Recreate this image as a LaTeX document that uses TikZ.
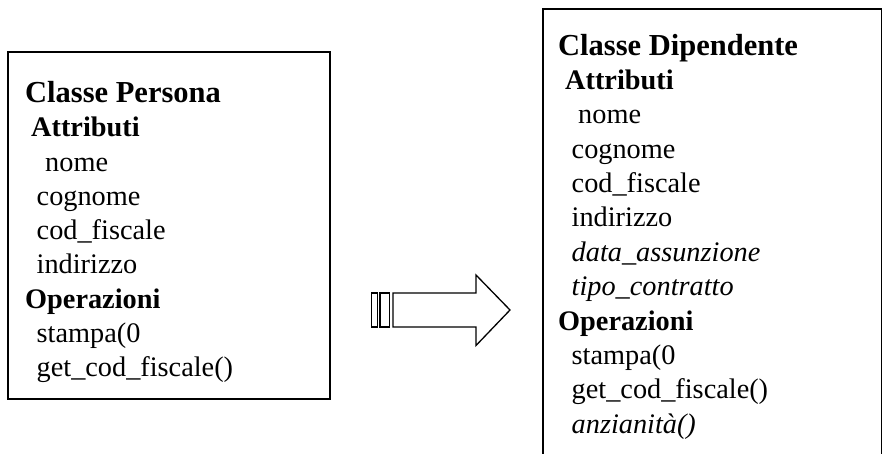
\documentclass[tikz,border=0pt]{standalone}
\usepackage{fontspec}
\setmainfont{Liberation Serif}
\begin{document}
\begin{tikzpicture}[x=1pt,y=-1pt,
  item/.style={anchor=base west,inner sep=0pt,font=\fontsize{28.3}{34}\selectfont},
  itemb/.style={item,font=\fontsize{28.3}{34}\selectfont\bfseries},
  itemi/.style={item,font=\fontsize{28.3}{34}\selectfont\itshape},
  head/.style={item,font=\fontsize{30.5}{36}\selectfont\bfseries},
  frame/.style={draw=black,line width=1.6pt,inner sep=0pt,outer sep=0pt,anchor=north west},
  arr/.style={draw=black,line width=1.3pt,fill=white,line join=miter}]
\useasboundingbox (0,0) rectangle (883,453);
\clip (0,0) rectangle (883,453);
\fill[white] (0,0) rectangle (883,453);
% boxes
\node[frame,minimum width=322pt,minimum height=347pt] (persona) at (8,52) {};
\node[frame,minimum width=338.5pt,minimum height=470pt] (dipendente) at (543,9) {};
% left texts
\node[head]  (p0) at (25,102.4) {Classe Persona};
\node[itemb] (p1) at (31,136.7) {Attributi};
\node[item]  (p2) at (45,171) {nome};
\node[item]  (p3) at (36.5,205.3) {cognome};
\node[item]  (p4) at (36.5,239.6) {cod\_fiscale};
\node[item]  (p5) at (36.5,273.9) {indirizzo};
\node[itemb] (p6) at (25,308.2) {Operazioni};
\node[item]  (p7) at (36.5,342.5) {stampa(0};
\node[item]  (p8) at (36.5,376.8) {get\_cod\_fiscale()};
% right texts
\node[head]  (d0) at (558,55) {Classe Dipendente};
\node[itemb] (d1) at (565,89.4) {Attributi};
\node[item]  (d2) at (578,123.7) {nome};
\node[item]  (d3) at (571.5,158.1) {cognome};
\node[item]  (d4) at (571.5,192.5) {cod\_fiscale};
\node[item]  (d5) at (571.5,226.8) {indirizzo};
\node[itemi] (d6) at (571.5,261.2) {data\_assunzione};
\node[itemi] (d7) at (571.5,295.6) {tipo\_contratto};
\node[itemb] (d8) at (558,330) {Operazioni};
\node[item]  (d9) at (571.5,364.3) {stampa(0};
\node[item]  (d10) at (571.5,398.7) {get\_cod\_fiscale()};
\node[itemi] (d11) at (571.5,433) {anzianità()};
% striped block arrow
\draw[arr] (371.7,293) rectangle (377.3,327);
\draw[arr] (380,293) rectangle (389.6,327);
\draw[arr] (393,293) -- (476,293) -- (476,275) -- (510,310) -- (476,345.5) -- (476,327) -- (393,327) -- cycle;
\end{tikzpicture}
\end{document}
